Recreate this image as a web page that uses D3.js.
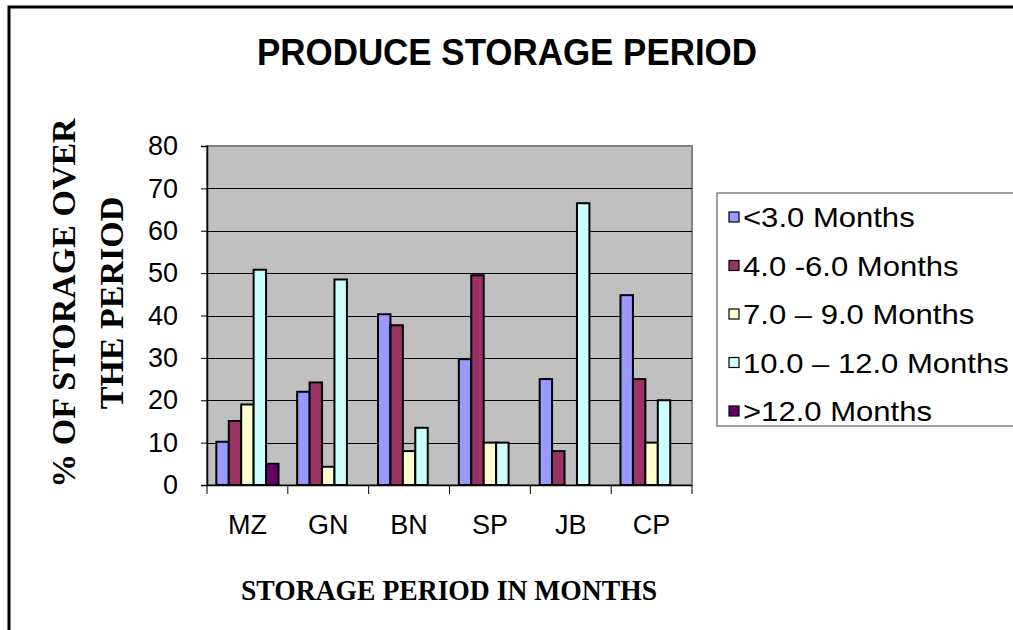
<!DOCTYPE html>
<html>
<head>
<meta charset="utf-8">
<script src="https://cdn.jsdelivr.net/npm/d3@7"></script>
<style>
  body { margin: 0; background: #fff; }
  svg { display: block; }
</style>
</head>
<body>
<script>
// data
const crops = ["MZ", "GN", "BN", "SP", "JB", "CP"];
const seriesNames = ["<3.0 Months", "4.0 -6.0 Months", "7.0 \u2013 9.0 Months", "10.0 \u2013 12.0 Months", ">12.0 Months"];
const under3 = [10.2, 22, 40.3, 29.7, 25, 44.8];
const m4to6 = [15.1, 24.2, 37.7, 49.5, 8, 25];
const m7to9 = [19, 4.3, 8, 10, 0, 10];
const m10to12 = [50.8, 48.5, 13.5, 10, 66.5, 20];
const over12 = [5, 0, 0, 0, 0, 0];
const yTicks = [0, 10, 20, 30, 40, 50, 60, 70, 80];

const colors = ["#9999FF", "#993366", "#FFFFCC", "#CCFFFF", "#660066"];
const allSeries = [under3, m4to6, m7to9, m10to12, over12];

const W = 1013, H = 630;
const plot = { left: 207, right: 692, top: 146, bottom: 485 };
const sans = "Liberation Sans, Arial, sans-serif";
const serif = "Liberation Serif, Times New Roman, serif";

const svg = d3.select("body").append("svg")
  .attr("width", W)
  .attr("height", H);

// outer chart border (runs off right / bottom)
svg.append("rect")
  .attr("x", 9).attr("y", 7)
  .attr("width", W + 20).attr("height", H + 20)
  .attr("fill", "#fff")
  .attr("stroke", "#000")
  .attr("stroke-width", 3);

// title
svg.append("text")
  .attr("x", 507).attr("y", 65)
  .attr("text-anchor", "middle")
  .attr("font-family", sans)
  .attr("font-weight", "bold")
  .attr("font-size", 37)
  .attr("textLength", 500)
  .attr("lengthAdjust", "spacingAndGlyphs")
  .text("PRODUCE STORAGE PERIOD");

// scales
const x = d3.scaleBand().domain(crops).range([plot.left, plot.right]);
const bw = x.bandwidth();
const gap = bw * 0.75 / 6.5;   // excel gap width 150%
const x1 = d3.scaleBand().domain(d3.range(5)).range([gap, bw - gap]);
const y = d3.scaleLinear().domain([0, 80]).range([plot.bottom, plot.top]);

// plot area
svg.append("rect")
  .attr("x", plot.left).attr("y", plot.top)
  .attr("width", plot.right - plot.left)
  .attr("height", plot.bottom - plot.top)
  .attr("fill", "#C0C0C0")
  .attr("stroke", "#808080")
  .attr("stroke-width", 2);

// gridlines
svg.append("g")
  .selectAll("line")
  .data(yTicks.filter(t => t > 0 && t < 80))
  .join("line")
  .attr("x1", plot.left).attr("x2", plot.right)
  .attr("y1", d => Math.round(y(d)) + 0.5)
  .attr("y2", d => Math.round(y(d)) + 0.5)
  .attr("stroke", "#000")
  .attr("stroke-width", 1);

// bars
const rows = [];
crops.forEach((c, i) => {
  allSeries.forEach((s, j) => {
    if (s[i] > 0) rows.push({ crop: c, k: j, value: s[i] });
  });
});

svg.append("g")
  .selectAll("rect")
  .data(rows)
  .join("rect")
  .attr("x", d => x(d.crop) + x1(d.k))
  .attr("y", d => y(d.value))
  .attr("width", x1.bandwidth())
  .attr("height", d => plot.bottom - y(d.value))
  .attr("fill", d => colors[d.k])
  .attr("stroke", "#000")
  .attr("stroke-width", 2);

// y axis
const yAxis = svg.append("g")
  .attr("transform", `translate(${plot.left},0)`)
  .call(d3.axisLeft(y).tickValues(yTicks).tickSize(6).tickPadding(23));
yAxis.select(".domain").attr("stroke", "#000").attr("stroke-width", 1.5);
yAxis.selectAll("line").attr("stroke", "#000");
yAxis.selectAll("text")
  .attr("font-family", sans)
  .attr("font-size", 27)
  .attr("fill", "#000");

// x axis: ticks between categories
const xAxisG = svg.append("g");
xAxisG.append("line")
  .attr("x1", plot.left).attr("x2", plot.right)
  .attr("y1", plot.bottom + 0.5).attr("y2", plot.bottom + 0.5)
  .attr("stroke", "#000").attr("stroke-width", 1.5);
xAxisG.selectAll("line.tk")
  .data(crops.map(c => x(c)).concat([plot.right]))
  .join("line")
  .attr("class", "tk")
  .attr("x1", d => d).attr("x2", d => d)
  .attr("y1", plot.bottom).attr("y2", plot.bottom + 9)
  .attr("stroke", "#000");
xAxisG.selectAll("text")
  .data(crops)
  .join("text")
  .attr("x", d => x(d) + bw / 2)
  .attr("y", 534)
  .attr("text-anchor", "middle")
  .attr("font-family", sans)
  .attr("font-size", 27)
  .text(d => d);

// axis titles
svg.append("text")
  .attr("x", 449).attr("y", 600)
  .attr("text-anchor", "middle")
  .attr("font-family", serif)
  .attr("font-weight", "bold")
  .attr("font-size", 29)
  .attr("textLength", 416)
  .attr("lengthAdjust", "spacingAndGlyphs")
  .text("STORAGE PERIOD IN MONTHS");

const yTitle = ["% OF STORAGE OVER", "THE PERIOD"];
svg.append("g")
  .selectAll("text")
  .data(yTitle)
  .join("text")
  .attr("transform", (d, i) => `translate(${i === 0 ? 75 : 123},303) rotate(-90)`)
  .attr("text-anchor", "middle")
  .attr("font-family", serif)
  .attr("font-weight", "bold")
  .attr("font-size", 34)
  .text(d => d);

// legend
const legend = svg.append("g");
legend.append("rect")
  .attr("x", 717).attr("y", 193)
  .attr("width", 320).attr("height", 233)
  .attr("fill", "#fff")
  .attr("stroke", "#808080")
  .attr("stroke-width", 1.5);

const li = legend.selectAll("g.item")
  .data(seriesNames)
  .join("g")
  .attr("class", "item")
  .attr("transform", (d, i) => `translate(729,${217 + i * 48.5})`);
li.append("rect")
  .attr("x", 0).attr("y", -5)
  .attr("width", 10).attr("height", 10)
  .attr("fill", (d, i) => colors[i])
  .attr("stroke", "#000")
  .attr("stroke-width", 1.2);
li.append("text")
  .attr("transform", "translate(14,10) scale(1.15,1)")
  .attr("font-family", sans)
  .attr("font-size", 27)
  .text(d => d);
</script>
</body>
</html>
